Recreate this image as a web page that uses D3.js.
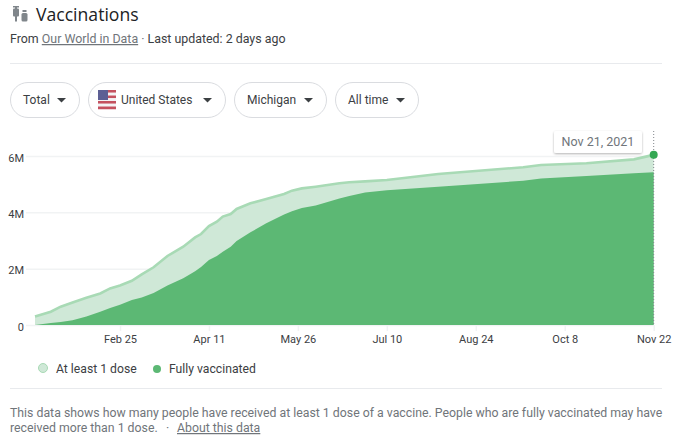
<!DOCTYPE html>
<html>
<head>
<meta charset="utf-8">
<script src="https://cdn.jsdelivr.net/npm/d3@7"></script>
<style>
  html, body { margin: 0; padding: 0; background: #fff; }
  text { font-family: Roboto, Arial, sans-serif; }
  svg { display: block; }
</style>
</head>
<body>
<div id="chart"></div>
<script>
//data
const dates = ["2021-01-13","2021-01-21","2021-01-26","2021-02-01","2021-02-08","2021-02-15","2021-02-20","2021-02-25",
  "2021-03-03","2021-03-08","2021-03-14","2021-03-21","2021-03-29","2021-04-04","2021-04-07","2021-04-11","2021-04-15",
  "2021-04-18","2021-04-22","2021-04-25","2021-05-02","2021-05-10","2021-05-19","2021-05-23","2021-05-28","2021-06-04",
  "2021-06-16","2021-06-21","2021-06-29","2021-07-10","2021-08-05","2021-09-17","2021-09-26","2021-10-19","2021-11-12","2021-11-22"];
const atLeastOne = [0.30,0.47,0.65,0.80,0.97,1.12,1.30,1.40,1.57,1.80,2.05,2.45,2.78,3.11,3.23,3.51,3.67,3.85,3.94,4.12,
  4.32,4.47,4.65,4.77,4.85,4.91,5.03,5.07,5.10,5.15,5.36,5.60,5.68,5.74,5.88,6.04];
const fully = [0,0.07,0.11,0.17,0.30,0.47,0.60,0.72,0.89,0.98,1.14,1.40,1.66,1.91,2.06,2.31,2.45,2.60,2.78,2.98,
  3.29,3.61,3.92,4.04,4.15,4.24,4.49,4.58,4.70,4.78,4.91,5.12,5.20,5.29,5.39,5.42];
const yTicks = [0, 2, 4, 6];
const xTicks = ["2021-02-25","2021-04-11","2021-05-26","2021-07-10","2021-08-24","2021-10-08","2021-11-22"];
const chips = ["Total", "United States", "Michigan", "All time"];

const width = 682, height = 443;
const margin = { left: 35, right: 28.3, top: 156, bottom: 118 };
const parseDate = d3.utcParse("%Y-%m-%d");

const svg = d3.select("#chart").append("svg")
  .attr("width", width)
  .attr("height", height);

// header
const icon = svg.append("g").attr("transform", "translate(12,6)").attr("fill", "#80868b");
icon.append("rect").attr("x", 1).attr("y", 2.5).attr("width", 6).attr("height", 8).attr("rx", 1);
icon.append("rect").attr("x", 3).attr("y", 0).attr("width", 2).attr("height", 15.5);
icon.append("rect").attr("x", 1).attr("y", 0).attr("width", 6).attr("height", 1.5);
icon.append("rect").attr("x", 10.5).attr("y", 4).attr("width", 4).attr("height", 2);
icon.append("rect").attr("x", 9.5).attr("y", 7).attr("width", 6).attr("height", 8.5).attr("rx", 1.5);

svg.append("text").attr("x", 36).attr("y", 21)
  .attr("font-size", 17.6).attr("fill", "#202124").style("font-family", "'Open Sans', Roboto, sans-serif")
  .text("Vaccinations");

const sub = svg.append("text").attr("x", 10).attr("y", 43).attr("font-size", 12.4).attr("fill", "#3c4043");
sub.append("tspan").text("From ");
sub.append("tspan").attr("fill", "#70757a").attr("text-decoration", "underline").text("Our World in Data");
sub.append("tspan").attr("fill", "#70757a").text(" · ");
sub.append("tspan").text("Last updated: 2 days ago");

svg.append("line").attr("x1", 10).attr("x2", 662).attr("y1", 63.5).attr("y2", 63.5).attr("stroke", "#e8eaed");

// dropdown chips
const chipX = [10, 88, 234, 335], chipW = [69, 137, 92, 83], chipText = [23, 121, 247, 348];
chips.forEach((label, i) => {
  svg.append("rect")
    .attr("x", chipX[i] + 0.5).attr("y", 82.5)
    .attr("width", chipW[i]).attr("height", 35).attr("rx", 17.5)
    .attr("fill", "#fff").attr("stroke", "#dadce0");
  svg.append("text").attr("x", chipText[i]).attr("y", 104)
    .attr("font-size", 12).attr("fill", "#3c4043").text(label);
  const ax = chipX[i] + chipW[i] - 22;
  svg.append("path")
    .attr("d", d3.line()([[ax, 98], [ax + 9, 98], [ax + 4.5, 102.5]]) + "Z")
    .attr("fill", "#3c4043");
});

// flag
const flag = svg.append("g").attr("transform", "translate(98,90)");
d3.range(7).forEach(i => {
  flag.append("rect").attr("x", 0).attr("y", i * 2.75).attr("width", 18).attr("height", 2.75)
    .attr("fill", i % 2 ? "#f3f3f5" : "#c4515f");
});
flag.append("rect").attr("width", 10).attr("height", 10).attr("fill", "#5d5f94");

// scales
const xScale = d3.scaleUtc()
  .domain([parseDate(dates[0]), parseDate(dates[dates.length - 1])])
  .range([margin.left, width - margin.right]);
const yScale = d3.scaleLinear()
  .domain([0, 6])
  .range([height - margin.bottom, margin.top]);

const rows = dates.map((d, i) => ({ date: parseDate(d), one: atLeastOne[i], full: fully[i] }));

// grid + axis
const gridAxis = d3.axisLeft(yScale)
  .tickValues(yTicks)
  .tickSize(-(width - margin.right - 26))
  .tickPadding(4)
  .tickFormat(d => d === 0 ? "0" : d + "M");
const yAxisGroup = svg.append("g")
  .attr("transform", `translate(26,0)`)
  .call(gridAxis);
yAxisGroup.select(".domain").remove();
yAxisGroup.selectAll("line").attr("stroke", "#f1f3f4").attr("stroke-width", 1.5);
yAxisGroup.selectAll("text").attr("font-size", 11).attr("fill", "#3c4043").attr("x", -2).attr("y", 1.5);

const xAxis = d3.axisBottom(xScale)
  .tickValues(xTicks.map(parseDate))
  .tickSize(6)
  .tickPadding(4)
  .tickFormat(d3.utcFormat("%b %-d"));
const xAxisGroup = svg.append("g")
  .attr("transform", `translate(0,${yScale(0)})`)
  .call(xAxis);
xAxisGroup.select(".domain").remove();
xAxisGroup.selectAll("line").attr("stroke", "#f1f3f4").attr("stroke-width", 1.5);
xAxisGroup.selectAll("text").attr("font-size", 11).attr("fill", "#3c4043");

// areas
svg.append("path").datum(rows)
  .attr("fill", "#cfe8d7")
  .attr("d", d3.area().x(d => xScale(d.date)).y0(yScale(0)).y1(d => yScale(d.one)));
svg.append("path").datum(rows)
  .attr("fill", "none").attr("stroke", "#a8dab5").attr("stroke-width", 2.6)
  .attr("d", d3.line().x(d => xScale(d.date)).y(d => yScale(d.one)));
svg.append("path").datum(rows)
  .attr("fill", "#5cb874")
  .attr("d", d3.area().x(d => xScale(d.date)).y0(yScale(0)).y1(d => yScale(d.full)));

// hover marker
const last = rows[rows.length - 1];
svg.append("line")
  .attr("x1", xScale(last.date)).attr("x2", xScale(last.date))
  .attr("y1", 131).attr("y2", yScale(0))
  .attr("stroke", "#80868b").attr("stroke-dasharray", "1,2");
svg.append("circle")
  .attr("cx", xScale(last.date)).attr("cy", yScale(last.one)).attr("r", 4)
  .attr("fill", "#34a853");

// tooltip
svg.append("defs").append("filter").attr("id", "shadow")
  .append("feDropShadow").attr("dx", 0).attr("dy", 1).attr("stdDeviation", 1.2)
  .attr("flood-color", "#000").attr("flood-opacity", 0.3);
svg.append("rect").attr("x", 554).attr("y", 131).attr("width", 88).attr("height", 22).attr("rx", 2)
  .attr("fill", "#fff").attr("filter", "url(#shadow)");
svg.append("text").attr("x", 598).attr("y", 146).attr("text-anchor", "middle")
  .attr("font-size", 12.5).attr("fill", "#70757a").text("Nov 21, 2021");

// legend
svg.append("circle").attr("cx", 43).attr("cy", 368).attr("r", 4.5)
  .attr("fill", "#cfe8d7").attr("stroke", "#a8dab5").attr("stroke-width", 1);
svg.append("text").attr("x", 56).attr("y", 373).attr("font-size", 12.2).attr("fill", "#3c4043").text("At least 1 dose");
svg.append("circle").attr("cx", 157).attr("cy", 369).attr("r", 4).attr("fill", "#5cb874");
svg.append("text").attr("x", 169).attr("y", 373).attr("font-size", 12.2).attr("fill", "#3c4043").text("Fully vaccinated");

svg.append("line").attr("x1", 10).attr("x2", 662).attr("y1", 388.5).attr("y2", 388.5).attr("stroke", "#e8eaed");

// footer
svg.append("text").attr("x", 10).attr("y", 417).attr("font-size", 12.3).attr("fill", "#70757a")
  .text("This data shows how many people have received at least 1 dose of a vaccine. People who are fully vaccinated may have");
svg.append("text").attr("x", 10).attr("y", 432).attr("font-size", 12.3).attr("fill", "#70757a")
  .text("received more than 1 dose.");
svg.append("text").attr("x", 166).attr("y", 432).attr("font-size", 12.3).attr("fill", "#70757a").text("·");
svg.append("text").attr("x", 177).attr("y", 432).attr("font-size", 12.3).attr("fill", "#70757a")
  .attr("text-decoration", "underline").text("About this data");
</script>
</body>
</html>
